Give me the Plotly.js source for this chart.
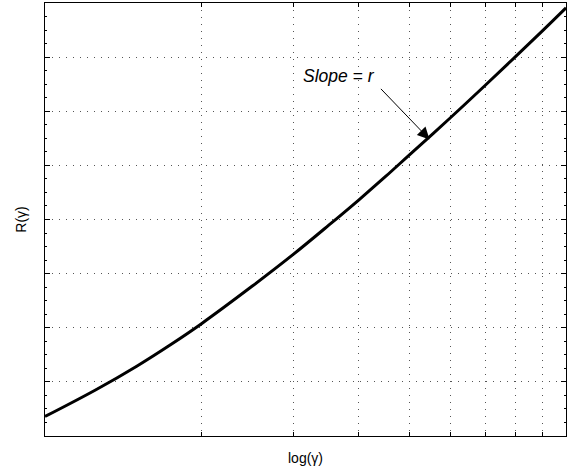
<!DOCTYPE html>
<html>
<head>
<meta charset="utf-8">
<script src="https://cdn.plot.ly/plotly-3.0.1.min.js"></script>
<style>html,body{margin:0;padding:0;background:#fff;}#chart{width:569px;height:469px;}</style>
</head>
<body>
<div id="chart"></div>
<script>
// Curve values (gamma on a log axis, R(gamma) on a linear axis)
const gammaVals = [1, 1.25, 1.5, 1.75, 2, 2.5, 3, 3.5, 4, 4.5, 5, 6, 7, 8, 9, 10];
const rVals     = [0.36, 0.85, 1.29, 1.70, 2.08, 2.77, 3.36, 3.89, 4.36, 4.79, 5.19, 5.88, 6.48, 7.01, 7.48, 7.91];

// Tick positions (labels are blank in the reference)
const xTickVals = [1, 2, 3, 4, 5, 6, 7, 8, 9, 10];
const xTickText = ['', '', '', '', '', '', '', '', '', ''];
const yTickVals = [0, 1, 2, 3, 4, 5, 6, 7, 8];
const yTickText = ['', '', '', '', '', '', '', '', ''];

// Annotation
const arrowTipGamma = 5.47;
const arrowTipR = 5.48;
const labelGamma = 3.67;
const labelR = 6.65;
const labelText = '<i>Slope</i> = <i>r</i>';

const font = 'Liberation Sans, Arial, Helvetica, sans-serif';

const trace = {
  x: gammaVals,
  y: rVals,
  type: 'scatter',
  mode: 'lines',
  line: {color: '#000', width: 3, shape: 'spline', smoothing: 1},
  hoverinfo: 'skip'
};

const gridDash = '1px,6px';

const layout = {
  width: 569,
  height: 469,
  margin: {l: 45, r: 3, t: 3, b: 33},
  paper_bgcolor: '#fff',
  plot_bgcolor: '#fff',
  showlegend: false,
  font: {family: font, size: 14, color: '#000'},
  xaxis: {
    type: 'log',
    range: [0, 1],
    tickmode: 'array',
    tickvals: xTickVals,
    ticktext: xTickText,
    ticks: 'inside',
    ticklen: 4,
    tickcolor: '#000',
    showgrid: true,
    gridcolor: '#555',
    griddash: gridDash,
    gridwidth: 1,
    showline: true,
    linecolor: '#000',
    linewidth: 1,
    mirror: 'ticks',
    zeroline: false,
    title: {text: 'log(γ)', font: {family: font, size: 14, color: '#000'}, standoff: 14}
  },
  yaxis: {
    range: [0, 8],
    tickmode: 'array',
    tickvals: yTickVals,
    ticktext: yTickText,
    ticks: 'inside',
    ticklen: 5,
    tickcolor: '#000',
    showgrid: true,
    gridcolor: '#555',
    griddash: gridDash,
    gridwidth: 1,
    showline: true,
    linecolor: '#000',
    linewidth: 1,
    mirror: 'ticks',
    zeroline: false,
    minor: {dtick: 0.25, ticks: 'inside', ticklen: 2, tickcolor: '#000', showgrid: false},
    title: {text: 'R(γ)', font: {family: font, size: 14, color: '#000'}, standoff: 11}
  },
  annotations: [
    {
      x: Math.log10(arrowTipGamma), y: arrowTipR, xref: 'x', yref: 'y',
      text: '', showarrow: true, arrowhead: 2, arrowsize: 2.4, arrowwidth: 1,
      arrowcolor: '#000', ax: -50, ay: -52, standoff: 0
    },
    {
      x: Math.log10(labelGamma), y: labelR, xref: 'x', yref: 'y',
      text: labelText, showarrow: false,
      font: {family: font, size: 17.5, color: '#000'}
    }
  ]
};

Plotly.newPlot('chart', [trace], layout, {displayModeBar: false, staticPlot: true});
</script>
</body>
</html>
